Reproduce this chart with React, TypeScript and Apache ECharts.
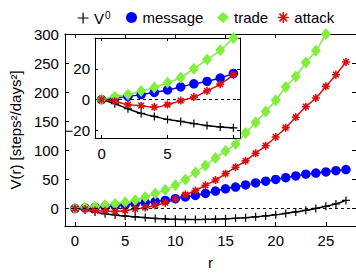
import React, { useEffect, useRef } from "react";
import * as echarts from "echarts";

const rValues = [0, 1, 2, 3, 4, 5, 6, 7, 8, 9, 10, 11, 12, 13, 14, 15, 16, 17, 18, 19, 20, 21, 22, 23, 24, 25, 26, 27];
const v0Values = [0, -2.7, -6, -9, -11, -12.9, -14.2, -15.6, -16.9, -17.8, -18.4, -18.7, -18.8, -18.6, -18.2, -17.6, -16.8, -15.7, -14.3, -12.6, -10.6, -8.4, -5.8, -3, 0.2, 3.8, 8, 14];
const messageValues = [0, 1, 2, 3.2, 4.6, 6.2, 8.2, 10.2, 11.8, 14, 17, 20, 22.5, 26, 30, 34, 37, 40.5, 44, 47, 50, 53, 56, 59, 61, 63, 65, 67];
const tradeValues = [0, 1.8, 3.3, 5.5, 7.8, 11, 14.4, 20, 26, 32, 40, 50, 62, 74, 87, 99, 111, 130, 148, 167, 186, 209, 227, 251, 271, 300, 327, 355];
const attackValues = [0, -1.1, -3.3, -4, -4.9, -3.3, -0.7, 1.6, 5.6, 10, 16, 24, 31, 40, 49, 60, 71, 82, 95, 108, 123, 139, 157, 175, 190, 210, 230, 252];

const mainXTicks = [0, 5, 10, 15, 20, 25];
const mainYTicks = [0, 50, 100, 150, 200, 250, 300];
const insetXTicks = [0, 5, 10];
const insetXLabels = [0, 5];
const insetYTicks = [-20, 0, 20];
const insetMaxR = 10;

const seriesNames = ["V0", "message", "trade", "attack"];

const PLUS = "path://M5 0L5 10M0 5L10 5";
const STAR = "path://M5 0L5 10M0 5L10 5M1.5 1.5L8.5 8.5M1.5 8.5L8.5 1.5";

const FONT = "Liberation Sans";

export default function App() {
  const ref = useRef<HTMLDivElement>(null);
  useEffect(() => {
    if (!ref.current) return;
    const chart = echarts.init(ref.current, null, { renderer: "svg" });

    const styles = [
      { symbol: PLUS, size: 8, color: "#000000", bw: 1.2, values: v0Values, legendLeft: 77 },
      { symbol: "circle", size: 9.5, color: "#0000ff", bw: 0, values: messageValues, legendLeft: 126 },
      { symbol: "diamond", size: [10, 12], color: "#80ee3c", bw: 0, values: tradeValues, legendLeft: 217 },
      { symbol: STAR, size: 8, color: "#d81010", bw: 1.6, values: attackValues, legendLeft: 277 },
    ];

    const makeSeries = (idx: number, inset: boolean) => {
      const s = styles[idx];
      const pts = rValues
        .map((r, i) => [r, s.values[i]])
        .filter((p) => !inset || p[0] <= insetMaxR);
      const ser: any = {
        type: "line",
        name: seriesNames[idx],
        data: pts,
        smooth: true,
        clip: true,
        symbol: s.symbol,
        symbolSize: s.size,
        showAllSymbol: true,
        lineStyle: { color: s.color, width: 1.5 },
        itemStyle: { color: s.color, borderColor: s.color, borderWidth: s.bw },
        xAxisIndex: inset ? 2 : 0,
        yAxisIndex: inset ? 2 : 0,
        z: inset ? 8 : 2,
        emphasis: { disabled: true },
      };
      if (idx === 0) {
        ser.markLine = {
          silent: true,
          symbol: "none",
          label: { show: false },
          lineStyle: { color: "#000", type: [3, 3], width: 1 },
          data: [{ yAxis: 0 }],
        };
      }
      return ser;
    };

    const series: any[] = [];
    for (let i = 0; i < 4; i++) series.push(makeSeries(i, false));
    for (let i = 0; i < 4; i++) series.push(makeSeries(i, true));

    const axisLine = { show: true, onZero: false, lineStyle: { color: "#000", width: 1 } };
    const labelStyle = { color: "#000", fontSize: 15, fontFamily: FONT };

    const legends = styles.map((s, i) => ({
      left: s.legendLeft,
      top: 10,
      padding: 0,
      itemWidth: 12,
      itemHeight: 11,
      itemGap: 0,
      selectedMode: false,
      formatter: (name: string) => (name === "V0" ? "V{s|0}" : name),
      textStyle: {
        color: "#000",
        fontSize: 15,
        fontFamily: FONT,
        rich: { s: { fontSize: 10, fontFamily: FONT, color: "#000", verticalAlign: "top", padding: [0, 0, 6, 1] } },
      },
      data: [
        {
          name: seriesNames[i],
          icon: s.symbol,
          itemStyle: { color: s.color, borderColor: s.color, borderWidth: s.bw },
        },
      ],
    }));

    const option: any = {
      animation: false,
      textStyle: { fontFamily: FONT },
      legend: legends,
      grid: [
        { left: 62, top: 34, width: 295, height: 208, containLabel: false },
        {
          left: 95,
          top: 38,
          width: 145,
          height: 100,
          show: true,
          backgroundColor: "#ffffff",
          borderWidth: 0,
          z: 5,
        },
      ],
      xAxis: [
        {
          type: "value",
          gridIndex: 0,
          min: -1,
          max: 28,
          name: "r",
          nameLocation: "middle",
          nameGap: 29,
          nameTextStyle: { color: "#000", fontSize: 15, fontFamily: FONT },
          axisLine,
          axisTick: { show: true, inside: true, length: 4, customValues: mainXTicks, lineStyle: { color: "#000" } },
          axisLabel: { ...labelStyle, margin: 7, customValues: mainXTicks },
          splitLine: { show: false },
        },
        {
          type: "value",
          gridIndex: 0,
          position: "top",
          min: -1,
          max: 28,
          axisLine,
          axisTick: { show: true, inside: true, length: 4, customValues: mainXTicks, lineStyle: { color: "#000" } },
          axisLabel: { show: false },
          splitLine: { show: false },
        },
        {
          type: "value",
          gridIndex: 1,
          min: -0.5,
          max: 10.5,
          z: 6,
          axisLine,
          axisTick: { show: true, inside: true, length: 3, customValues: insetXTicks, lineStyle: { color: "#000" } },
          axisLabel: { ...labelStyle, margin: 8, customValues: insetXLabels },
          splitLine: { show: false },
        },
        {
          type: "value",
          gridIndex: 1,
          position: "top",
          min: -0.5,
          max: 10.5,
          z: 6,
          axisLine,
          axisTick: { show: true, inside: true, length: 3, customValues: insetXTicks, lineStyle: { color: "#000" } },
          axisLabel: { show: false },
          splitLine: { show: false },
        },
      ],
      yAxis: [
        {
          type: "value",
          gridIndex: 0,
          min: -30,
          max: 300,
          name: "V(r) [steps\u00b2/days\u00b2]",
          nameLocation: "middle",
          nameGap: 37,
          nameTextStyle: { color: "#000", fontSize: 15, fontFamily: FONT },
          axisLine,
          axisTick: { show: true, inside: true, length: 4, customValues: mainYTicks, lineStyle: { color: "#000" } },
          axisLabel: { ...labelStyle, margin: 6, customValues: mainYTicks },
          splitLine: { show: false },
        },
        {
          type: "value",
          gridIndex: 0,
          position: "right",
          min: -30,
          max: 300,
          axisLine,
          axisTick: { show: true, inside: true, length: 4, customValues: mainYTicks, lineStyle: { color: "#000" } },
          axisLabel: { show: false },
          splitLine: { show: false },
        },
        {
          type: "value",
          gridIndex: 1,
          min: -25,
          max: 40,
          z: 6,
          axisLine,
          axisTick: { show: true, inside: true, length: 3, customValues: insetYTicks, lineStyle: { color: "#000" } },
          axisLabel: { ...labelStyle, margin: 5, customValues: insetYTicks, formatter: (v: number) => (v < 0 ? "\u2212" + Math.abs(v) : String(v)) },
          splitLine: { show: false },
        },
        {
          type: "value",
          gridIndex: 1,
          position: "right",
          min: -25,
          max: 40,
          z: 6,
          axisLine,
          axisTick: { show: true, inside: true, length: 3, customValues: insetYTicks, lineStyle: { color: "#000" } },
          axisLabel: { show: false },
          splitLine: { show: false },
        },
      ],
      series,
    };

    chart.setOption(option);
    return () => chart.dispose();
  }, []);

  return <div ref={ref} style={{ width: 356, height: 275, position: "absolute", left: 0, top: 0, background: "#fff" }} />;
}
